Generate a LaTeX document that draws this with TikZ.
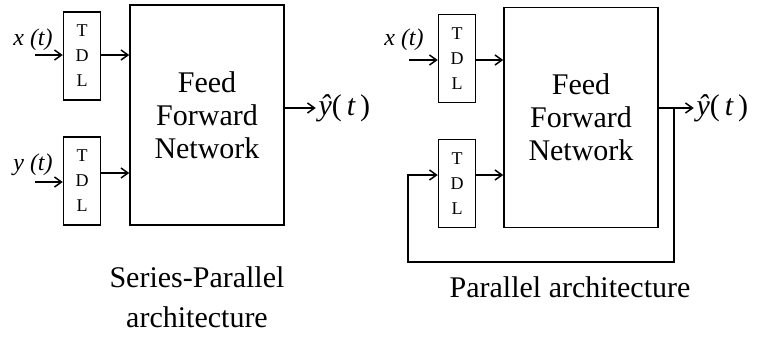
\documentclass[tikz,border=0pt]{standalone}
\usepackage{fontspec}
\setmainfont{Liberation Serif}
\usetikzlibrary{calc,arrows.meta}

\begin{document}
\begin{tikzpicture}[x=1pt,y=-1pt,line width=1.5pt,
  >={Straight Barb[length=7pt,width=10pt]},
  tdl/.style={draw,minimum width=37pt,minimum height=88pt,inner sep=0pt,
    align=center,font=\fontsize{18}{25}\selectfont},
  ffn/.style={draw,minimum width=154pt,minimum height=220pt,
    align=center,font=\fontsize{30}{33}\selectfont},
  sig/.style={font=\fontsize{24}{26}\selectfont\itshape},
  yhat/.style={right,inner sep=2pt,font=\fontsize{30}{32}\selectfont},
  archlabel/.style={align=center,font=\fontsize{30}{40}\selectfont}]
  \useasboundingbox (0,0) rectangle (761,341);

  % series-parallel
  \node[tdl] (tdlA) at (82,56) {T\\D\\L};
  \node[tdl] (tdlB) at (82,181) {T\\D\\L};
  \node[ffn] (ffnA) at (207,115) {Feed\\Forward\\Network};
  \node[sig] (xinA) at (33,40) {x (t)};
  \node[sig] (yinA) at (33,165) {y (t)};
  \coordinate (xstartA) at (35,55);
  \coordinate (ystartA) at (35,182);
  \draw[->] (xstartA) -- (xstartA -| tdlA.west);
  \draw[->] (ystartA) -- (ystartA -| tdlB.west);
  \draw[->] (tdlA.east |- xstartA) -- (ffnA.west |- xstartA);
  \draw[->] ([yshift=8pt]tdlB.east) -- ([yshift=8pt]tdlB.east -| ffnA.west);
  \draw[->] ([yshift=7pt]ffnA.east) -- ++(31,0) node[yhat] (outA) {{\itshape ŷ}(\,{\itshape t}\,)};
  \node[archlabel] (capA) at (197,297) {Series-Parallel\\architecture};

  % parallel
  \begin{scope}
  \node[tdl] (tdlC) at (457,58.5) {T\\D\\L};
  \node[tdl] (tdlD) at (457,183.5) {T\\D\\L};
  \node[ffn] (ffnB) at (581,117.5) {Feed\\Forward\\Network};
  \node[sig] (xinB) at (404,40) {x (t)};
  \coordinate (xstartB) at (409,60);
  \draw[->] (xstartB) -- (xstartB -| tdlC.west);
  \draw[->] (tdlC.east |- xstartB) -- (ffnB.west |- xstartB);
  \draw[->] ([yshift=8.5pt]tdlD.east) -- ([yshift=8.5pt]tdlD.east -| ffnB.west);
  \coordinate (fork) at ($(ffnB.east)+(15,-9.5)$);
  \draw[->] (ffnB.east |- fork) -- ++(35,0) node[yhat] (outB) {{\itshape ŷ}(\,{\itshape t}\,)};
  \draw[->] (fork) |- (408,262) |- ([yshift=8.5pt]tdlD.west);
  \node[archlabel] (capB) at (570,287) {Parallel architecture};
  \end{scope}
\end{tikzpicture}
\end{document}
